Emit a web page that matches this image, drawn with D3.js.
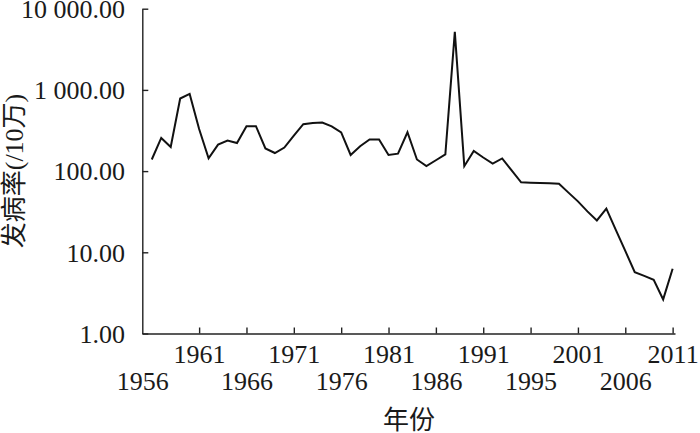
<!DOCTYPE html>
<html>
<head>
<meta charset="utf-8">
<script src="https://cdn.jsdelivr.net/npm/d3@7"></script>
<style>
body { margin: 0; background: #fff; }
svg { display: block; }
text { font-family: "Liberation Serif", "Times New Roman", "Noto Sans CJK SC", serif; fill: #1a1a1a; }
</style>
</head>
<body>
<svg id="canvas" width="700" height="433"></svg>
<script>
// incidence per 100 000, one value per year 1956-2011
var years = d3.range(1956, 2012);
var rates = [139, 256, 198, 783, 893, 330, 144, 212, 238, 222,
  357, 357, 190, 167, 195, 274, 378, 392, 396, 355,
  300, 158, 202, 245, 245, 158, 164, 301, 139, 115,
  136, 161, 5190, 115, 177, 147, 124, 143, 102, 72.8,
  72, 71.5, 71, 70, 54.3, 42.4, 31.9, 24.7, 34.5, 18.9,
  10.4, 5.7, 5.12, 4.59, 2.63, 6.28];

var tickYears = [1955, 1961, 1966, 1971, 1976, 1981, 1986, 1991, 1996, 2001, 2006, 2011];
var tickLabels = ["1956", "1961", "1966", "1971", "1976", "1981", "1986", "1991", "1995", "2001", "2006", "2011"];
var yTicks = [1, 10, 100, 1000, 10000];

var plotLeft = 142.3, plotRight = 675, plotTop = 8.7, plotBottom = 333.5;

var svg = d3.select("#canvas");

var xScale = d3.scaleLinear()
.domain([1955, 2011.25])
.range([plotLeft, plotRight]);

var yScale = d3.scaleLog()
.domain([1, 10000])
.range([plotBottom, plotTop]);

var fmt = d3.format(",.2f");

// y axis
var yAxis = svg.append("g")
.attr("transform", "translate(" + plotLeft + ",0)")
.call(d3.axisLeft(yScale)
  .tickValues(yTicks)
  .tickSizeInner(-6)
  .tickSizeOuter(0)
  .tickFormat(function(d) { return fmt(d).replace(/,/g, " "); }));

yAxis.attr("font-family", null).attr("font-size", null);
yAxis.select(".domain").attr("stroke", "#222").attr("stroke-width", 1.4);
yAxis.selectAll(".tick line").attr("stroke", "#222").attr("stroke-width", 1.4);
yAxis.selectAll(".tick text")
.attr("x", 125 - plotLeft)
.attr("dy", "0.34em")
.style("font-size", "26px");

// x axis
var xAxis = svg.append("g")
.attr("transform", "translate(0," + plotBottom + ")")
.call(d3.axisBottom(xScale)
  .tickValues(tickYears)
  .tickSizeInner(-6)
  .tickSizeOuter(0)
  .tickFormat(function(d, i) { return tickLabels[i]; }));

xAxis.attr("font-family", null).attr("font-size", null);
xAxis.select(".domain").attr("stroke", "#222").attr("stroke-width", 1.4);
xAxis.selectAll(".tick line").attr("stroke", "#222").attr("stroke-width", 1.4)
.filter(function(d) { return d === 1955; }).remove();
xAxis.selectAll(".tick text")
.attr("y", function(d, i) { return i % 2 === 0 ? 56.5 : 29.5; })
.attr("dy", null)
.style("font-size", "26px");

// series line
var line = d3.line()
.x(function(d, i) { return xScale(years[i]); })
.y(function(d) { return yScale(d); });

svg.append("path")
.datum(rates)
.attr("fill", "none")
.attr("stroke", "#111")
.attr("stroke-width", 2)
.attr("stroke-linejoin", "miter")
.attr("d", line);

// titles
svg.append("text")
.attr("transform", "translate(13.5,171) rotate(-90)")
.attr("text-anchor", "middle")
.attr("dy", "0.35em")
.style("font-size", "26px")
.text("发病率(/10万)");

svg.append("text")
.attr("x", 409)
.attr("y", 419.5)
.attr("text-anchor", "middle")
.attr("dy", "0.36em")
.style("font-size", "26px")
.text("年份");
</script>
</body>
</html>
